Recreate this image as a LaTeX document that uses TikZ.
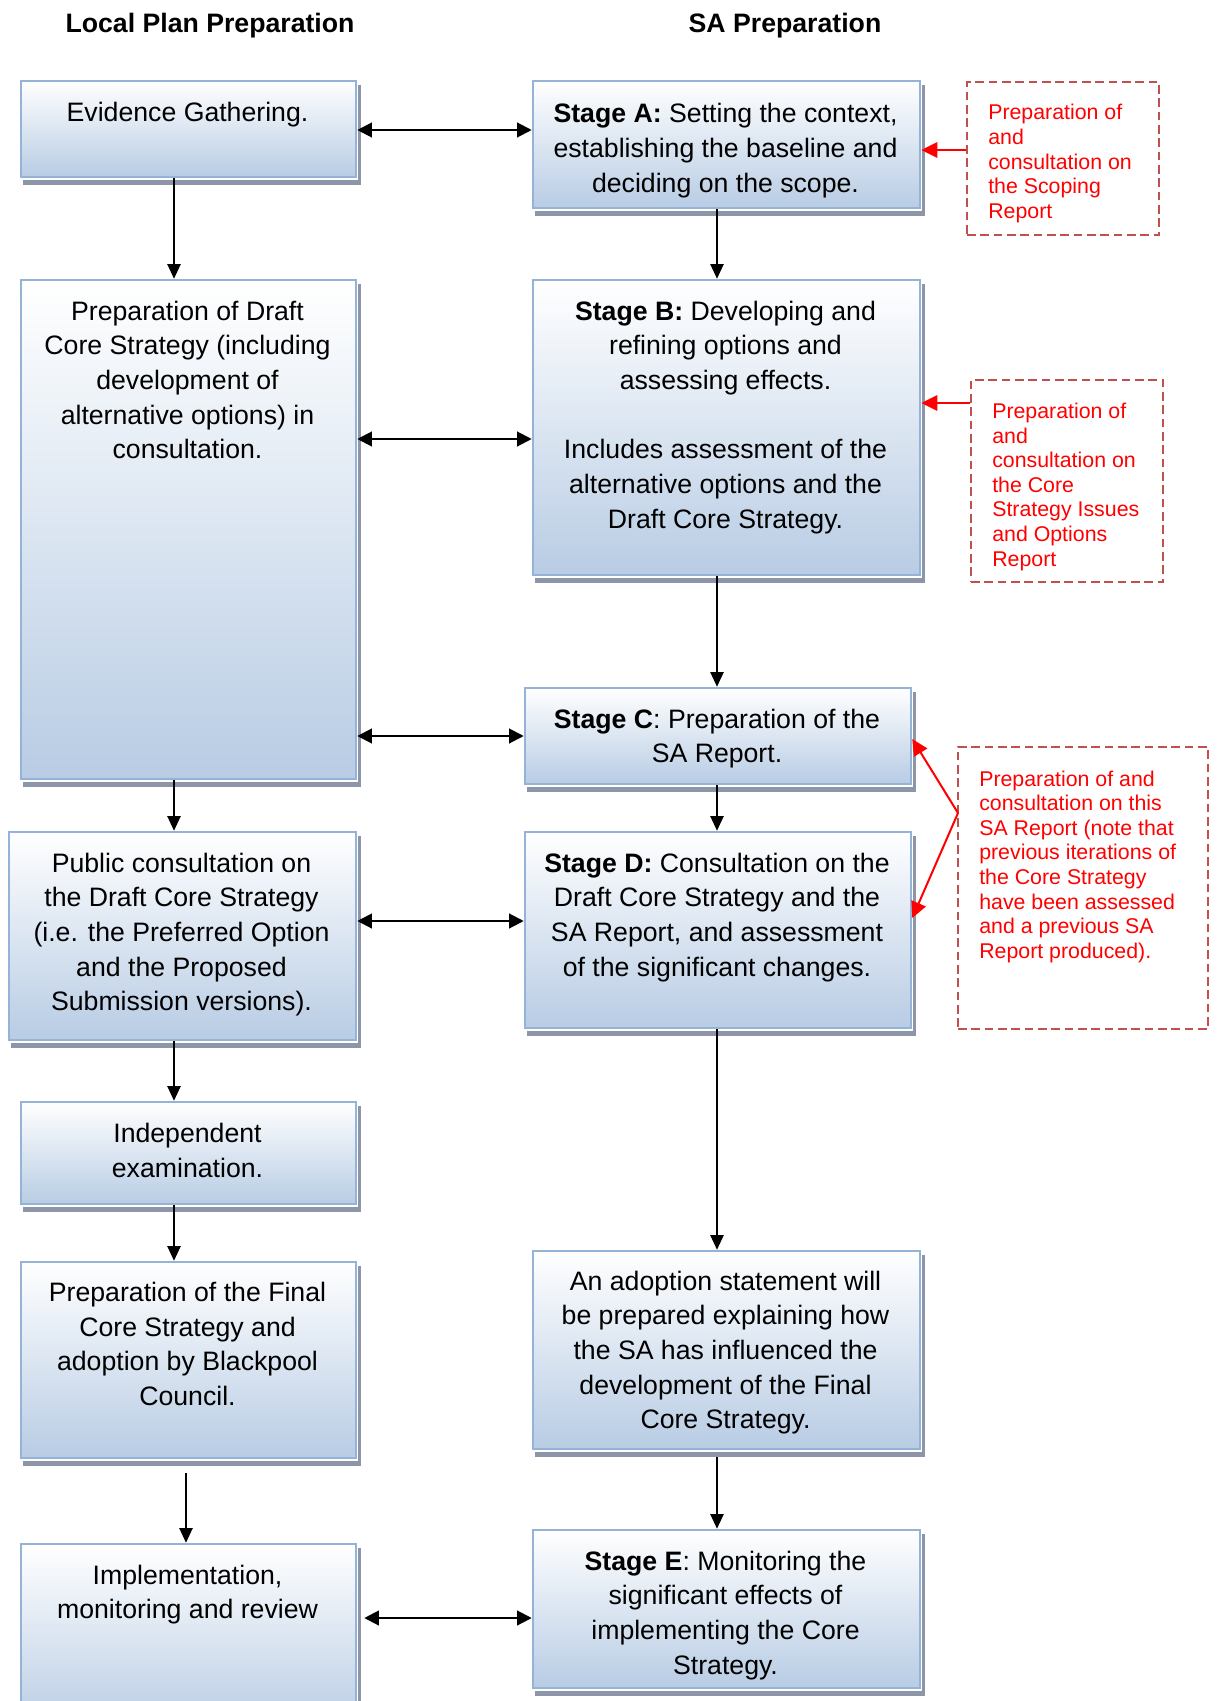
\documentclass[tikz,border=0pt]{standalone}
\usepackage{fontspec}
\setmainfont{Liberation Sans}
\usetikzlibrary{arrows.meta,fit,calc}

\definecolor{boxborder}{RGB}{149,179,215}
\definecolor{boxbottom}{RGB}{184,204,228}
\definecolor{shadowc}{RGB}{140,150,168}
\definecolor{dashred}{RGB}{192,80,77}

\tikzset{
  box/.style={draw=boxborder, line width=1.9pt, top color=white, bottom color=boxbottom, inner sep=0pt},
  notebox/.style={draw=dashred, line width=1.6pt, dash pattern=on 6.5pt off 3.5pt, inner sep=0pt},
  body/.style={font=\fontsize{20}{26}\selectfont, align=center, inner sep=0pt, anchor=base},
  title/.style={font=\fontsize{20}{26}\selectfont\bfseries, inner sep=0pt, anchor=base},
  note/.style={font=\fontsize{16}{18.45}\selectfont, text=red, align=left, inner sep=0pt, anchor=base west},
  dn/.style={draw=black, line width=1pt, -{Triangle[length=11pt,width=10pt]}},
  dbl/.style={draw=black, line width=1.6pt, {Triangle[length=11pt,width=11pt]}-{Triangle[length=11pt,width=11pt]}},
  redarr/.style={draw=red, line width=1.5pt, -{Triangle[length=12pt,width=11.5pt]}},
}

\begin{document}
\begin{tikzpicture}[x=0.75pt,y=-0.75pt]
\useasboundingbox (0,0) rectangle (1217,1701);
\clip (0,0) rectangle (1217,1701);

% titles
\node[title] (t1) at (210,33) {Local Plan Preparation};
\node[title] (t2) at (785,33) {SA Preparation};

% left column boxes
\node[box, fit={(21,81) (356,177)}] (ev) {};
\node[box, fit={(21,280) (356,779)}] (pd) {};
\node[box, fit={(9,832) (356,1040)}] (pc) {};
\node[box, fit={(21,1102) (356,1204)}] (ie) {};
\node[box, fit={(21,1262) (356,1458)}] (fc) {};
\node[box, fit={(21,1544) (356,1730)}] (im) {};
% right column boxes
\node[box, fit={(533,81) (920,208)}] (sa) {};
\node[box, fit={(533,280) (920,575)}] (sb) {};
\node[box, fit={(525,688) (911,784)}] (sc) {};
\node[box, fit={(525,832) (911,1028)}] (sd) {};
\node[box, fit={(533,1251) (920,1449)}] (ad) {};
\node[box, fit={(533,1530) (920,1688)}] (se) {};

% shadows
\foreach \n in {ev,pd,pc,ie,fc,im,sa,sb,sc,sd,ad,se} {
  \fill[shadowc] ($(\n.south west)+(3,1.5)$) rectangle ($(\n.south east)+(4,7)$);
  \fill[shadowc] ($(\n.north east)+(1.2,5)$) rectangle ($(\n.south east)+(4,1.5)$);
}

% note boxes
\node[notebox, fit={(967,82) (1159,235)}] (r1) {};
\node[notebox, fit={(971,380) (1163,582)}] (r2) {};
\node[notebox, fit={(958,747) (1208,1029)}] (r3) {};

% texts (anchor = baseline of the last line)
\node[body] (evt) at (187.5,122) {Evidence Gathering.};
\node[body] (sat) at (725.5,192.3) {\textbf{Stage A:} Setting the context,\\establishing the baseline and\\deciding on the scope.};
\node[body] (pdt) at (187.5,458.7) {Preparation of Draft\\Core Strategy (including\\development of\\alternative options) in\\consultation.};
\node[body] (sbt) at (725.5,528) {\textbf{Stage B:} Developing and\\refining options and\\assessing effects.\\[26pt]Includes assessment of the\\alternative options and the\\Draft Core Strategy.};
\node[body] (sct) at (717,762.7) {\textbf{Stage C}: Preparation of the\\SA Report.};
\node[body] (sdt) at (717,976) {\textbf{Stage D:} Consultation on the\\Draft Core Strategy and the\\SA Report, and assessment\\of the significant changes.};
\node[body] (pct) at (181.5,1010.7) {Public consultation on\\the Draft Core Strategy\\(i.e. the Preferred Option\\and the Proposed\\Submission versions).};
\node[body] (iet) at (187.5,1177.2) {Independent\\examination.};
\node[body] (fct) at (187.5,1405.5) {Preparation of the Final\\Core Strategy and\\adoption by Blackpool\\Council.};
\node[body] (adt) at (725.5,1428.7) {An adoption statement will\\be prepared explaining how\\the SA has influenced the\\development of the Final\\Core Strategy.};
\node[body] (imt) at (187.5,1618.7) {Implementation,\\monitoring and review};
\node[body] (set) at (725.5,1674) {\textbf{Stage E}: Monitoring the\\significant effects of\\implementing the Core\\Strategy.};

\node[note] (r1t) at (988,218.4) {Preparation of\\and\\consultation on\\the Scoping\\Report};
\node[note] (r2t) at (992,566.1) {Preparation of\\and\\consultation on\\the Core\\Strategy Issues\\and Options\\Report};
\node[note] (r3t) at (979,958.2) {Preparation of and\\consultation on this\\SA Report (note that\\previous iterations of\\the Core Strategy\\have been assessed\\and a previous SA\\Report produced).};

% helper coordinates
\coordinate (xl) at (174,0);
\coordinate (xm) at (186,0);
\coordinate (xr) at (717,0);
\coordinate (y1) at (0,130);
\coordinate (y2) at (0,439);
\coordinate (y3) at (0,736);
\coordinate (y4) at (0,921);
\coordinate (y5) at (0,1618);
\coordinate (ya) at (0,150);
\coordinate (yb) at (0,403);
\coordinate (yc) at (0,739);
\coordinate (yd) at (0,918);
\coordinate (r3p) at (958,813);

% down arrows
\draw[dn] (ev.south -| xl) -- (pd.north -| xl);
\draw[dn] (pd.south -| xl) -- (pc.north -| xl);
\draw[dn] (pc.south -| xl) -- (ie.north -| xl);
\draw[dn] (ie.south -| xl) -- (fc.north -| xl);
\draw[dn] ($(fc.south -| xm)+(0,14)$) -- (im.north -| xm);
\draw[dn] (sa.south -| xr) -- (sb.north -| xr);
\draw[dn] (sb.south -| xr) -- (sc.north -| xr);
\draw[dn] (sc.south -| xr) -- (sd.north -| xr);
\draw[dn] (sd.south -| xr) -- (ad.north -| xr);
\draw[dn] ($(ad.south -| xr)+(0,7)$) -- (se.north -| xr);

% double arrows
\draw[dbl] (ev.east |- y1) -- (sa.west |- y1);
\draw[dbl] (pd.east |- y2) -- (sb.west |- y2);
\draw[dbl] (pd.east |- y3) -- (sc.west |- y3);
\draw[dbl] (pc.east |- y4) -- (sd.west |- y4);
\draw[dbl] ($(im.east |- y5)+(7,0)$) -- (se.west |- y5);

% red arrows
\draw[redarr] (r1.west |- ya) -- (sa.east |- ya);
\draw[redarr] (r2.west |- yb) -- (sb.east |- yb);
\draw[redarr] (r3p) -- (sc.east |- yc);
\draw[redarr] (r3p) -- (sd.east |- yd);
\end{tikzpicture}
\end{document}
